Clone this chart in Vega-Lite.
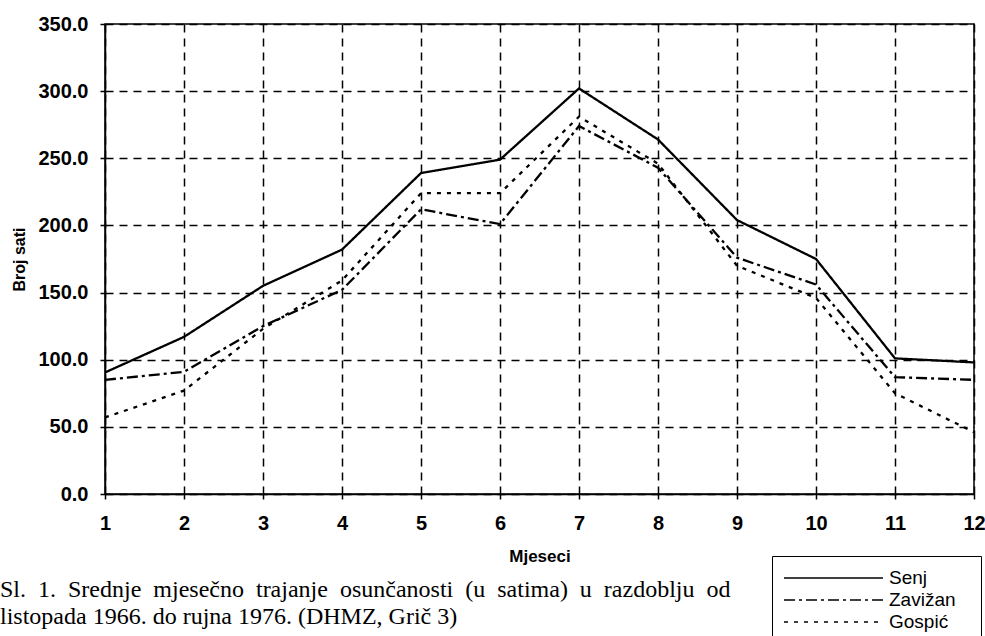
{
  "$schema": "https://vega.github.io/schema/vega-lite/v6.json",
  "width": 869,
  "height": 470,
  "autosize": "none",
  "padding": {"left": 105, "top": 24, "right": 11, "bottom": 142},
  "background": "white",
  "config": {
    "view": {"stroke": "black", "strokeWidth": 1.5},
    "font": "Liberation Sans"
  },
  "title": {
    "text": ["Sl.\u00a0 1.\u00a0 Srednje\u00a0 mjesečno\u00a0 trajanje\u00a0 osunčanosti\u00a0 (u\u00a0 satima)\u00a0 u\u00a0 razdoblju\u00a0 od", "listopada 1966. do rujna 1976. (DHMZ, Grič 3)"],
    "orient": "bottom",
    "anchor": "start",
    "frame": "group",
    "dx": -105,
    "offset": -67,
    "font": "Liberation Serif",
    "fontSize": 24,
    "fontWeight": "normal",
    "lineHeight": 27,
    "color": "black"
  },
  "data": {
    "values": [
      {"month": 1, "station": "Senj", "hours": 90.5},
      {"month": 2, "station": "Senj", "hours": 117},
      {"month": 3, "station": "Senj", "hours": 155},
      {"month": 4, "station": "Senj", "hours": 182},
      {"month": 5, "station": "Senj", "hours": 239},
      {"month": 6, "station": "Senj", "hours": 249},
      {"month": 7, "station": "Senj", "hours": 302},
      {"month": 8, "station": "Senj", "hours": 264},
      {"month": 9, "station": "Senj", "hours": 204},
      {"month": 10, "station": "Senj", "hours": 175},
      {"month": 11, "station": "Senj", "hours": 101},
      {"month": 12, "station": "Senj", "hours": 98},
      {"month": 1, "station": "Zavižan", "hours": 85},
      {"month": 2, "station": "Zavižan", "hours": 91},
      {"month": 3, "station": "Zavižan", "hours": 125},
      {"month": 4, "station": "Zavižan", "hours": 152},
      {"month": 5, "station": "Zavižan", "hours": 212},
      {"month": 6, "station": "Zavižan", "hours": 201},
      {"month": 7, "station": "Zavižan", "hours": 274},
      {"month": 8, "station": "Zavižan", "hours": 243},
      {"month": 9, "station": "Zavižan", "hours": 176},
      {"month": 10, "station": "Zavižan", "hours": 156},
      {"month": 11, "station": "Zavižan", "hours": 87},
      {"month": 12, "station": "Zavižan", "hours": 85},
      {"month": 1, "station": "Gospić", "hours": 57},
      {"month": 2, "station": "Gospić", "hours": 77},
      {"month": 3, "station": "Gospić", "hours": 123},
      {"month": 4, "station": "Gospić", "hours": 159},
      {"month": 5, "station": "Gospić", "hours": 224},
      {"month": 6, "station": "Gospić", "hours": 224},
      {"month": 7, "station": "Gospić", "hours": 281},
      {"month": 8, "station": "Gospić", "hours": 246},
      {"month": 9, "station": "Gospić", "hours": 170},
      {"month": 10, "station": "Gospić", "hours": 146},
      {"month": 11, "station": "Gospić", "hours": 75},
      {"month": 12, "station": "Gospić", "hours": 46}
    ]
  },
  "mark": {"type": "line", "color": "black", "strokeWidth": 2.3},
  "encoding": {
    "x": {
      "field": "month",
      "type": "quantitative",
      "scale": {"domain": [1, 12], "nice": false, "zero": false},
      "axis": {
        "title": "Mjeseci",
        "values": [1, 2, 3, 4, 5, 6, 7, 8, 9, 10, 11, 12],
        "format": "d",
        "domainColor": "black",
        "domainWidth": 1.5,
        "tickColor": "black",
        "tickSize": 5,
        "tickWidth": 1.5,
        "grid": true,
        "gridColor": "black",
        "gridDash": [8, 6],
        "gridWidth": 1.5,
        "gridOpacity": 1,
        "labelFont": "Liberation Sans",
        "labelFontSize": 20,
        "labelFontWeight": "bold",
        "labelColor": "black",
        "labelPadding": 14,
        "labelFlush": false,
        "titleFont": "Liberation Sans",
        "titleFontSize": 17,
        "titleFontWeight": "bold",
        "titleColor": "black",
        "titlePadding": 15
      }
    },
    "y": {
      "field": "hours",
      "type": "quantitative",
      "scale": {"domain": [0, 350], "nice": false},
      "axis": {
        "title": "Broj sati",
        "values": [0, 50, 100, 150, 200, 250, 300, 350],
        "format": ".1f",
        "domainColor": "black",
        "domainWidth": 1.5,
        "tickColor": "black",
        "tickSize": 5,
        "tickWidth": 1.5,
        "grid": true,
        "gridColor": "black",
        "gridDash": [8, 6],
        "gridWidth": 1.5,
        "gridOpacity": 1,
        "labelFont": "Liberation Sans",
        "labelFontSize": 20,
        "labelFontWeight": "bold",
        "labelColor": "black",
        "labelPadding": 12,
        "labelFlush": false,
        "titleFont": "Liberation Sans",
        "titleFontSize": 16,
        "titleFontWeight": "bold",
        "titleColor": "black",
        "titlePadding": 10
      }
    },
    "strokeDash": {
      "field": "station",
      "type": "nominal",
      "scale": {
        "domain": ["Senj", "Zavižan", "Gospić"],
        "range": [[1, 0], [11, 4, 3, 4], [4, 6]]
      },
      "legend": {
        "title": null,
        "orient": "none",
        "legendX": 667,
        "legendY": 532,
        "strokeColor": "black",
        "fillColor": "white",
        "padding": 11,
        "symbolType": "stroke",
        "symbolSize": 9801,
        "symbolStrokeColor": "black",
        "symbolStrokeWidth": 1.5,
        "clipHeight": 22,
        "rowPadding": 0,
        "labelOffset": 5,
        "labelFont": "Liberation Sans",
        "labelFontSize": 19,
        "labelColor": "black",
        "labelExpr": "datum.label + '\u2800'"
      }
    }
  }
}
